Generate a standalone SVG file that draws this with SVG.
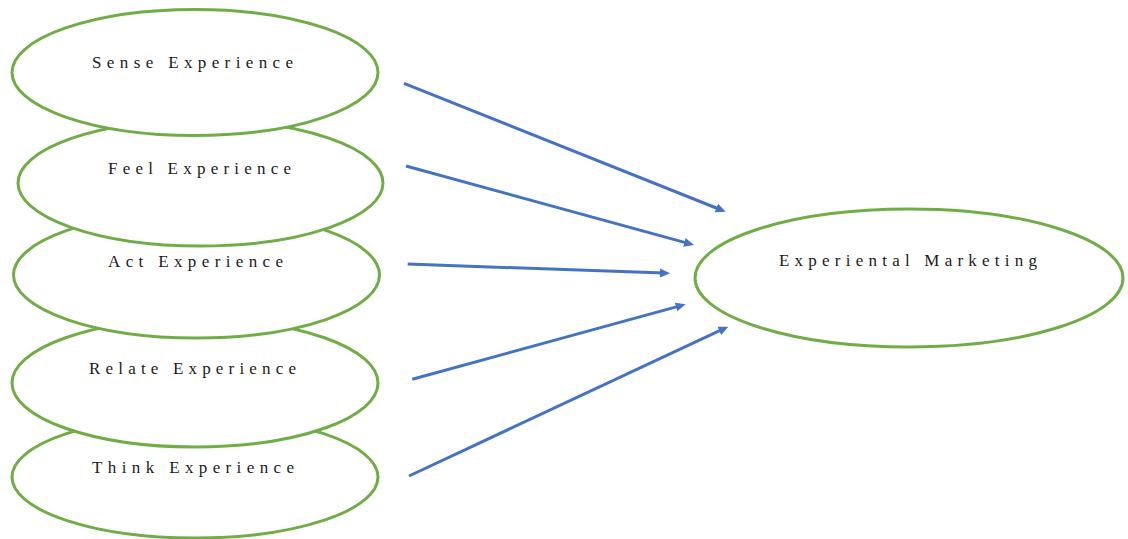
<svg xmlns="http://www.w3.org/2000/svg" width="1128" height="539" viewBox="0 0 1128 539">
  <style>
    .node { fill: #ffffff; stroke: #70AD47; stroke-width: 3; }
    .label { font-family: "Liberation Serif", "Times New Roman", serif; font-size: 17px; fill: #1a1a1a; }
    .conn { stroke: #4472C4; stroke-width: 3; fill: none; marker-end: url(#arrow); }
  </style>
  <defs>
    <marker id="arrow" markerUnits="userSpaceOnUse" markerWidth="11" markerHeight="10" refX="4" refY="5" orient="auto">
      <path d="M0,0.5 L10,5 L0,9.5 z" fill="#4472C4"/>
    </marker>
  </defs>

  <rect width="1128" height="539" fill="#ffffff"/>

  <!-- Source ellipses: lower ones first so each upper one overlaps the next -->
  <g id="think">
    <ellipse class="node" cx="195" cy="477" rx="183" ry="61"/>
    <text class="label" x="92" y="473" textLength="202" lengthAdjust="spacing">Think Experience</text>
  </g>
  <g id="relate">
    <ellipse class="node" cx="195" cy="383" rx="183" ry="64"/>
    <text class="label" x="89" y="374" textLength="207" lengthAdjust="spacing">Relate Experience</text>
  </g>
  <g id="act">
    <ellipse class="node" cx="196.5" cy="275" rx="183" ry="63"/>
    <text class="label" x="108" y="267" textLength="175" lengthAdjust="spacing">Act Experience</text>
  </g>
  <g id="feel">
    <ellipse class="node" cx="200.5" cy="183" rx="182.5" ry="63"/>
    <text class="label" x="108" y="174" textLength="183" lengthAdjust="spacing">Feel Experience</text>
  </g>
  <g id="sense">
    <ellipse class="node" cx="195" cy="72.5" rx="183" ry="63"/>
    <text class="label" x="92" y="67.5" textLength="201" lengthAdjust="spacing">Sense Experience</text>
  </g>

  <!-- Target ellipse -->
  <g id="experiential-marketing">
    <ellipse class="node" cx="909" cy="278" rx="214" ry="69"/>
    <text class="label" x="779" y="265.5" textLength="258" lengthAdjust="spacing">Experiental Marketing</text>
  </g>

  <!-- Connectors -->
  <g id="connectors">
    <line class="conn" x1="404" y1="83.3" x2="720.1" y2="209.5"/>
    <line class="conn" x1="406" y1="166" x2="688.2" y2="243.4"/>
    <line class="conn" x1="407.7" y1="264" x2="664" y2="273.1"/>
    <line class="conn" x1="412.3" y1="379.3" x2="679.9" y2="305.9"/>
    <line class="conn" x1="409" y1="476" x2="722.9" y2="329.2"/>
  </g>
</svg>
